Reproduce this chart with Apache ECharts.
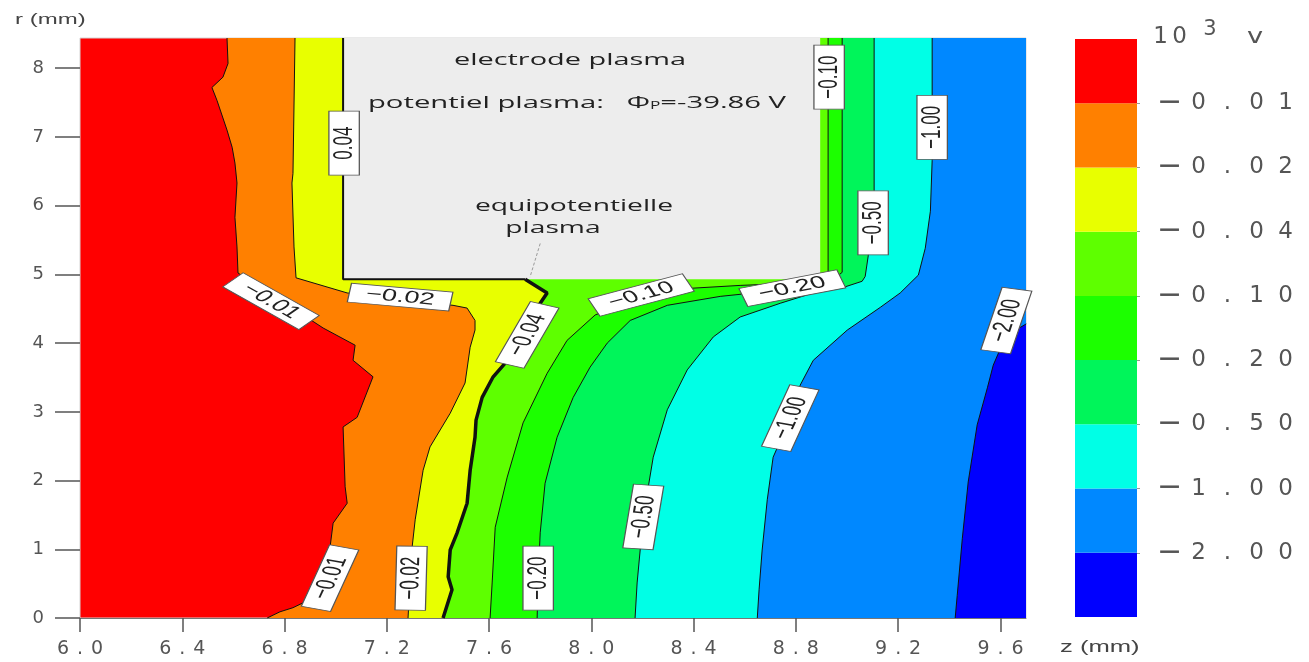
<!DOCTYPE html>
<html><head><meta charset="utf-8">
<script src="https://cdn.jsdelivr.net/npm/echarts@6/dist/echarts.min.js"></script>
<style>html,body{margin:0;padding:0;background:#fff}#c{width:1309px;height:662px}</style>
</head><body><div id="c"></div>
<script>
// ---------- data (z in mm, r in mm) ----------
const Z_MIN = 6.0, Z_MAX = 9.7, R_MIN = 0, R_MAX = 8.44;
const xTicks = [6.0, 6.4, 6.8, 7.2, 7.6, 8.0, 8.4, 8.8, 9.2, 9.6];
const yTicks = [0, 1, 2, 3, 4, 5, 6, 7, 8];

// colour bands, top (highest potential) to bottom
const bandColors = ['#ff0000', '#ff8000', '#e8ff00', '#5eff00', '#1cff00', '#00f55a', '#00ffe6', '#0088ff', '#0000ff'];
// contour levels (10^3 V)
const levelLabels = ['−0.01', '−0.02', '−0.04', '−0.10', '−0.20', '−0.50', '−1.00', '−2.00'];

// contour lines, each from top of plot to r = 0
const c001 = [[6.575,8.44],[6.579,8.07],[6.559,7.87],[6.516,7.72],[6.536,7.53],[6.575,7.10],[6.595,6.85],[6.606,6.62],[6.614,6.33],[6.606,5.83],[6.614,5.40],[6.618,5.02],[6.782,4.63],[6.951,4.22],[7.076,3.97],[7.068,3.75],[7.146,3.51],[7.084,2.92],[7.029,2.78],[7.037,1.91],[7.045,1.67],[6.990,1.38],[6.978,1.03],[6.919,0.55],[6.872,0.22],[6.833,0.15],[6.782,0.09],[6.732,0]];
const c002 = [[6.841,8.44],[6.833,6.47],[6.829,6.33],[6.837,5.40],[6.845,4.95],[7.045,4.73],[7.252,4.63],[7.459,4.55],[7.514,4.51],[7.545,4.33],[7.545,4.19],[7.526,3.94],[7.506,3.42],[7.448,2.98],[7.369,2.49],[7.342,2.15],[7.311,1.43],[7.299,1.03],[7.291,0.55],[7.283,0]];
const c004 = [[7.029,8.44],[7.029,4.93],[7.741,4.93],[7.827,4.73],[7.800,4.58],[7.729,4.12],[7.663,3.71],[7.616,3.51],[7.573,3.21],[7.549,2.88],[7.545,2.63],[7.526,2.15],[7.514,1.67],[7.475,1.24],[7.448,0.99],[7.440,0.60],[7.455,0.41],[7.420,0]];
const c010 = [[8.926,8.44],[8.926,4.95],[8.899,4.89],[8.778,4.87],[8.582,4.84],[8.398,4.80],[8.195,4.67],[8.015,4.41],[7.905,4.04],[7.827,3.56],[7.733,2.84],[7.671,2.05],[7.624,1.32],[7.612,0.51],[7.604,0]];
const c020 = [[8.981,8.44],[8.981,5.03],[8.934,4.89],[8.786,4.80],[8.660,4.74],[8.504,4.68],[8.297,4.55],[8.152,4.33],[8.062,4.00],[7.995,3.65],[7.929,3.21],[7.866,2.63],[7.819,1.96],[7.800,1.24],[7.792,0.58],[7.788,0]];
const c050 = [[9.106,8.44],[9.106,6.20],[9.083,5.27],[9.071,4.97],[9.059,4.90],[8.985,4.81],[8.868,4.73],[8.739,4.58],[8.582,4.38],[8.477,4.09],[8.375,3.61],[8.297,3.03],[8.242,2.34],[8.203,1.47],[8.179,0.51],[8.171,0]];
const c100 = [[9.333,8.44],[9.333,6.66],[9.326,5.92],[9.306,5.38],[9.279,4.99],[9.208,4.73],[9.130,4.52],[9.001,4.19],[8.868,3.75],[8.817,3.39],[8.778,2.91],[8.711,2.34],[8.688,1.72],[8.668,0.99],[8.656,0.41],[8.649,0]];
const c200 = [[9.701,4.28],[9.678,4.23],[9.623,4.12],[9.572,3.68],[9.549,3.35],[9.509,2.81],[9.474,1.98],[9.451,1.16],[9.431,0.33],[9.423,0]];

// electrode block and leader line
const electrodeZ = [7.029, 8.895];
const electrodeR = [4.93, 8.44];
const pointerLine = [[7.80, 5.45], [7.76, 4.96]];

// contour labels
const labelText  = ['−0.01','−0.02','0.04','−0.04','−0.10','−0.20','−0.10','−1.00','−0.50','−1.00','−2.00','−0.50','−0.20','−0.01','−0.02'];
const labelZ     = [6.747, 7.252, 7.033, 7.749, 8.195, 8.786, 8.930, 9.333, 9.102, 8.778, 9.623, 8.203, 7.792, 6.978, 7.295];
const labelR     = [4.61, 4.67, 6.91, 4.12, 4.70, 4.80, 7.87, 7.14, 5.75, 2.91, 4.33, 1.47, 0.58, 0.58, 0.58];
const labelAngle = [-42, -8, 90, 70, 23, 17, 90, 90, 90, 74, 78, 84, 90, 74, 89];

// ---------- chart ----------
const STRETCH = 1.6;
const chart = echarts.init(document.getElementById('c'));
const contours = [c001, c002, c004, c010, c020, c050, c100, c200];

function fillSeries(pts, color, z) {
  return {
    type: 'custom', xAxisIndex: 0, yAxisIndex: 0, silent: true, z: z, clip: true,
    data: [[pts[0][0], pts[0][1]]],
    renderItem: function (params, api) {
      const ring = pts.concat([[Z_MAX, R_MIN], [Z_MAX, pts[0][1]]]);
      return { type: 'polygon', shape: { points: ring.map(p => api.coord(p)) }, style: { fill: color } };
    }
  };
}
function lineSeries(pts, width, z) {
  return {
    type: 'line', xAxisIndex: 0, yAxisIndex: 0, data: pts, showSymbol: false, symbol: 'none',
    silent: true, z: z, lineStyle: { color: '#111', width: width }
  };
}

const series = [];
contours.forEach((pts, i) => series.push(fillSeries(pts, bandColors[i + 1], 3 + i)));
// electrode
series.push({
  type: 'custom', xAxisIndex: 0, yAxisIndex: 0, silent: true, z: 20,
  data: [[electrodeZ[0], electrodeR[0]]],
  renderItem: function (params, api) {
    const a = api.coord([electrodeZ[0], electrodeR[1]]);
    const b = api.coord([electrodeZ[1], electrodeR[0]]);
    return { type: 'rect', shape: { x: a[0], y: a[1], width: b[0] - a[0], height: b[1] - a[1] }, style: { fill: '#ededed' } };
  }
});
// contour lines
[c001, c002, c010, c020, c050, c100, c200].forEach(pts => series.push(lineSeries(pts, 1, 30)));
series.push(lineSeries(c004.slice(0, 3), 2, 31));
series.push(lineSeries(c004.slice(2), 3.5, 31));
// leader line
series.push({
  type: 'line', xAxisIndex: 0, yAxisIndex: 0, data: pointerLine, showSymbol: false, symbol: 'none',
  silent: true, z: 32, lineStyle: { color: '#9a9a9a', width: 1, type: [3, 2] }
});
// contour labels
series.push({
  type: 'custom', xAxisIndex: 0, yAxisIndex: 0, silent: true, z: 40,
  data: labelZ.map((z, i) => [z, labelR[i]]),
  renderItem: function (params, api) {
    const i = params.dataIndex;
    const c = api.coord([api.value(0), api.value(1)]);
    return {
      type: 'group', x: c[0], y: c[1], scaleX: STRETCH,
      children: [{
        type: 'group', rotation: labelAngle[i] * Math.PI / 180,
        children: [
          { type: 'rect', shape: { x: -32, y: -9.5, width: 64, height: 19 },
            style: { fill: '#ffffff', stroke: '#555', lineWidth: 1, strokeNoScale: true } },
          { type: 'text', style: { text: labelText[i], x: 0, y: 0, align: 'center', verticalAlign: 'middle',
              textAlign: 'center', textVerticalAlign: 'middle',
              fontFamily: 'Liberation Sans', fontSize: 17, fill: '#222' } }
        ]
      }]
    };
  }
});
// colour bar (stacked from bottom)
for (let k = 0; k < bandColors.length; k++) {
  series.push({
    type: 'bar', xAxisIndex: 1, yAxisIndex: 1, stack: 'cb', data: [1], barWidth: '100%',
    silent: true, itemStyle: { color: bandColors[bandColors.length - 1 - k] }
  });
}

function spaced(s) { return s.split('').map(ch => '{c|' + ch + '}').join(''); }

const option = {
  animation: false,
  backgroundColor: '#ffffff',
  grid: [
    { left: 80, right: 283, top: 38, bottom: 44, show: true, backgroundColor: bandColors[0], borderColor: '#d4d4d4', borderWidth: 1 },
    { left: 1075, width: 62, top: 39, bottom: 45 }
  ],
  xAxis: [
    { type: 'value', gridIndex: 0, min: Z_MIN, max: Z_MAX, splitLine: { show: false },
      axisLine: { show: true, onZero: false, lineStyle: { color: '#777', width: 1 } },
      axisTick: { show: true, length: 14, customValues: xTicks, lineStyle: { color: '#555', width: 1.5 } },
      axisLabel: { customValues: xTicks, margin: 21, formatter: v => spaced(v.toFixed(1)),
        rich: { c: { width: 17, align: 'center', fontSize: 19, fontFamily: 'DejaVu Sans', color: '#555', lineHeight: 20 } } } },
    { type: 'category', gridIndex: 1, data: ['bar'], show: false }
  ],
  yAxis: [
    { type: 'value', gridIndex: 0, min: R_MIN, max: R_MAX, splitLine: { show: false },
      axisLine: { show: false },
      axisTick: { show: true, length: 25, customValues: yTicks, lineStyle: { color: '#555', width: 1.5 } },
      axisLabel: { customValues: yTicks, margin: 36, fontSize: 18, fontFamily: 'DejaVu Sans', color: '#555' } },
    { type: 'value', gridIndex: 1, min: 0, max: 9, interval: 1, position: 'right', splitLine: { show: false },
      axisLine: { show: false },
      axisTick: { show: true, length: 3, customValues: [1, 2, 3, 4, 5, 6, 7, 8], lineStyle: { color: '#999' } },
      axisLabel: { customValues: [1, 2, 3, 4, 5, 6, 7, 8], margin: 18,
        formatter: v => { const s = levelLabels[8 - v]; if (!s) return ''; return '{m|' + s[0] + '}' + s.slice(1).split('').map(ch => '{c|' + ch + '}').join(''); },
        rich: {
          c: { width: 29, align: 'center', fontSize: 23, fontFamily: 'DejaVu Sans', color: '#555' },
          m: { width: 29, align: 'center', fontSize: 30, fontFamily: 'DejaVu Sans', color: '#555' }
        } } }
  ],
  graphic: [
    { type: 'text', x: 15, y: 20, scaleX: STRETCH, z: 100,
      style: { text: 'r (mm)', font: '15px "Liberation Sans"', fill: '#444', align: 'left', verticalAlign: 'middle', textAlign: 'left', textVerticalAlign: 'middle' } },
    { type: 'text', x: 1060, y: 648, scaleX: STRETCH, z: 100,
      style: { text: 'z (mm)', font: '16px "Liberation Sans"', fill: '#444', align: 'left', verticalAlign: 'middle', textAlign: 'left', textVerticalAlign: 'middle' } },
    { type: 'text', x: 1170, y: 37, z: 100,
      style: { text: '{n|1}{n|0}', rich: { n: { width: 19, align: 'center', fontSize: 23, fontFamily: 'DejaVu Sans', fill: '#555', color: '#555' } },
        align: 'center', verticalAlign: 'middle', textAlign: 'center', textVerticalAlign: 'middle' } },
    { type: 'text', x: 1210, y: 30, z: 100,
      style: { text: '3', font: '21px "DejaVu Sans"', fill: '#555', align: 'center', verticalAlign: 'middle', textAlign: 'center', textVerticalAlign: 'middle' } },
    { type: 'text', x: 1255, y: 38, scaleX: 1.3, z: 100,
      style: { text: 'v', font: '21px "DejaVu Sans"', fill: '#555', align: 'center', verticalAlign: 'middle', textAlign: 'center', textVerticalAlign: 'middle' } },
    { type: 'text', x: 570, y: 60, scaleX: 1.7, z: 100,
      style: { text: 'electrode plasma', font: '17px "Open Sans"', fill: '#222', align: 'center', verticalAlign: 'middle', textAlign: 'center', textVerticalAlign: 'middle' } },
    { type: 'text', x: 577, y: 103, scaleX: 1.72, z: 100,
      style: { text: '{a|potentiel plasma:   Φ}{s|P}{a|=-39.86 V}',
        rich: { a: { fontSize: 17, fontFamily: 'Open Sans', fill: '#222', color: '#222' },
                s: { fontSize: 10, fontFamily: 'Open Sans', fill: '#222', color: '#222', padding: [7, 0, 0, 0] } },
        align: 'center', verticalAlign: 'middle', textAlign: 'center', textVerticalAlign: 'middle' } },
    { type: 'text', x: 574, y: 206, scaleX: 1.66, z: 100,
      style: { text: 'equipotentielle', font: '17px "Open Sans"', fill: '#222', align: 'center', verticalAlign: 'middle', textAlign: 'center', textVerticalAlign: 'middle' } },
    { type: 'text', x: 553, y: 228, scaleX: 1.66, z: 100,
      style: { text: 'plasma', font: '17px "Open Sans"', fill: '#222', align: 'center', verticalAlign: 'middle', textAlign: 'center', textVerticalAlign: 'middle' } }
  ],
  series: series
};
chart.setOption(option);
</script></body></html>
